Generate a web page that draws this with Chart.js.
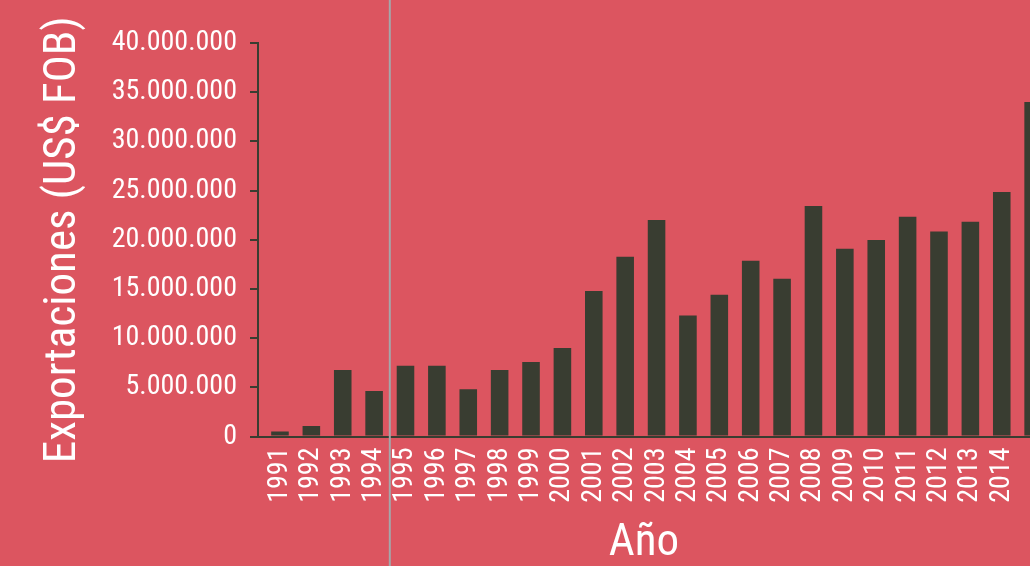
<!DOCTYPE html>
<html>
<head>
<meta charset="utf-8">
<script src="https://cdn.jsdelivr.net/npm/chart.js@4.4.1/dist/chart.umd.min.js"></script>
<style>
  html, body { margin: 0; padding: 0; background: #dc5560; overflow: hidden; }
  canvas { display: block; }
</style>
</head>
<body>
<canvas id="c" width="1030" height="566"></canvas>
<script>
const years = [1991,1992,1993,1994,1995,1996,1997,1998,1999,2000,2001,2002,2003,2004,2005,2006,2007,2008,2009,2010,2011,2012,2013,2014,2015];
const exportsFOB = [500000,1070000,6770000,4630000,7200000,7200000,4800000,6770000,7580000,9000000,14800000,18270000,22000000,12300000,14400000,17860000,16030000,23430000,19080000,19970000,22340000,20850000,21830000,24850000,34000000];
const yTitle = 'Exportaciones (US$ FOB)';
const xTitle = 'Año';
const splitAfterYear = 1994;

const FONT = "'Liberation Sans Narrow', 'Roboto Condensed', 'DejaVu Sans Condensed', sans-serif";
const BAR = '#393d31';
const WHITE = '#ffffff';

const fmt = v => String(Math.round(v)).replace(/\B(?=(\d{3})+(?!\d))/g, '.');

const splitLine = {
  id: 'splitLine',
  afterDraw(chart) {
    const x = chart.scales.x;
    const px = (x.getPixelForValue(splitAfterYear) + x.getPixelForValue(splitAfterYear + 1)) / 2;
    const ctx = chart.ctx;
    ctx.save();
    ctx.strokeStyle = '#a4a7aa';
    ctx.lineWidth = 2;
    ctx.beginPath();
    ctx.moveTo(px, 0);
    ctx.lineTo(px, chart.height);
    ctx.stroke();
    ctx.restore();
  }
};

new Chart(document.getElementById('c'), {
  type: 'bar',
  data: {
    datasets: [{
      data: years.map((y, i) => ({ x: y, y: exportsFOB[i] })),
      backgroundColor: BAR,
      borderWidth: 0,
      barPercentage: 0.56,
      categoryPercentage: 1
    }]
  },
  options: {
    responsive: false,
    animation: false,
    layout: { padding: { top: 43, left: 0, right: 0, bottom: 0 } },
    plugins: { legend: { display: false }, tooltip: { enabled: false } },
    scales: {
      x: {
        type: 'linear',
        offset: false,
        min: 1990.3,
        max: 2014.9,
        grid: { display: false, drawTicks: false },
        border: { display: true, color: BAR, width: 2 },
        ticks: {
          stepSize: 1,
          autoSkip: false,
          includeBounds: false,
          minRotation: 90,
          maxRotation: 90,
          padding: 11,
          color: WHITE,
          font: { family: FONT, size: 28 },
          callback: v => String(v)
        },
        title: {
          display: true,
          text: xTitle,
          color: WHITE,
          font: { family: FONT, size: 45, lineHeight: 1 },
          padding: { top: 0, bottom: 0 }
        },
        afterFit(s) { s.height = 129.5; s.paddingLeft = 0; s.paddingRight = 0; }
      },
      y: {
        min: 0,
        max: 40000000,
        grid: { display: true, drawOnChartArea: false, drawTicks: true, tickLength: 8, color: BAR, lineWidth: 2 },
        border: { display: true, color: BAR, width: 2 },
        ticks: {
          stepSize: 5000000,
          padding: 13,
          color: WHITE,
          font: { family: FONT, size: 28 },
          callback: v => fmt(v)
        },
        title: {
          display: true,
          text: yTitle,
          color: WHITE,
          font: { family: FONT, size: 45 },
          padding: { top: 37, bottom: 0 }
        },
        afterFit(s) { s.width = 258; }
      }
    }
  },
  plugins: [splitLine]
});
</script>
</body>
</html>
